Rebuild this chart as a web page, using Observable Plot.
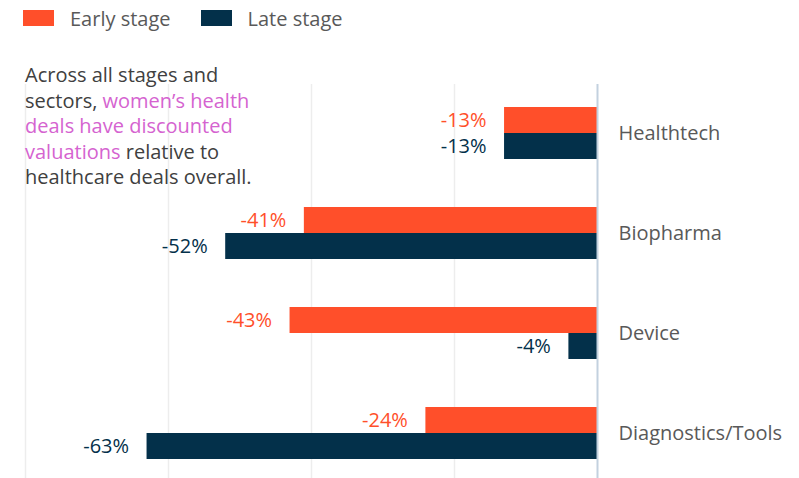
<!DOCTYPE html>
<html>
<head>
<meta charset="utf-8">
<script src="https://cdn.jsdelivr.net/npm/d3@7"></script>
<script src="https://cdn.jsdelivr.net/npm/@observablehq/plot@0.6"></script>
<style>
  html, body { margin: 0; padding: 0; background: #fff; }
  body { width: 799px; height: 478px; overflow: hidden; font-family: "Open Sans", Lato, sans-serif; }
  #wrap { position: relative; width: 799px; }
  #legend { height: 36px; display: flex; align-items: center; font-size: 20px; color: #595959; }
  .item { display: flex; align-items: center; }
  .sw { width: 31px; height: 16px; display: inline-block; margin-right: 16px; }
  #note { position: absolute; left: 25px; top: 62px; font-size: 20px; line-height: 25.6px; color: #404040; width: 290px; }
  #note .hl { color: #D563D0; }
</style>
</head>
<body>
<div id="wrap">
  <div id="legend"></div>
  <div id="chart"></div>
  <div id="note">Across all stages and<br>sectors, <span class="hl">women’s health<br>deals have discounted<br>valuations</span> relative to<br>healthcare deals overall.</div>
</div>
<script>
const categories = ["Healthtech", "Biopharma", "Device", "Diagnostics/Tools"];
const earlyStage = [-13, -41, -43, -24];
const lateStage = [-13, -52, -4, -63];
const gridTicks = [-80, -60, -40, -20];
const seriesNames = ["Early stage", "Late stage"];
const colors = ["#FF4F2A", "#03304A"];

const data = categories.map((c, i) => ({category: c, early: earlyStage[i], late: lateStage[i]}));

// legend
const legend = document.getElementById("legend");
seriesNames.forEach((name, i) => {
  const it = document.createElement("div");
  it.className = "item";
  it.style.marginLeft = i === 0 ? "23px" : "30px";
  it.innerHTML = `<span class="sw" style="background:${colors[i]}"></span><span>${name}</span>`;
  legend.appendChild(it);
});

const chart = Plot.plot({
  width: 799,
  height: 442,
  marginLeft: 25,
  marginRight: 202,
  marginTop: 48,
  marginBottom: 0,
  style: {fontFamily: "'Open Sans', Lato, sans-serif", background: "#fff"},
  x: {domain: [-80, 0], axis: null},
  y: {domain: categories, range: [47, 447], paddingInner: 0.48, paddingOuter: 0.24, axis: null},
  marks: [
    Plot.ruleX(gridTicks, {stroke: "#EDEDED", strokeWidth: 1.5}),
    Plot.barX(data, {x: "early", y: "category", fill: colors[0], insetBottom: 26}),
    Plot.barX(data, {x: "late", y: "category", fill: colors[1], insetTop: 26}),
    Plot.ruleX([0], {stroke: "#C3D1DF", strokeWidth: 2}),
    Plot.text(data, {x: "early", y: "category", dy: -13, dx: -18, text: d => d.early + "%", textAnchor: "end", fill: colors[0], fontSize: 20}),
    Plot.text(data, {x: "late", y: "category", dy: 13, dx: -18, text: d => d.late + "%", textAnchor: "end", fill: colors[1], fontSize: 20}),
    Plot.axisY({anchor: "right", tickSize: 0, tickPadding: 21, fontSize: 20, color: "#595959", label: null})
  ]
});
document.getElementById("chart").appendChild(chart);
</script>
</body>
</html>
